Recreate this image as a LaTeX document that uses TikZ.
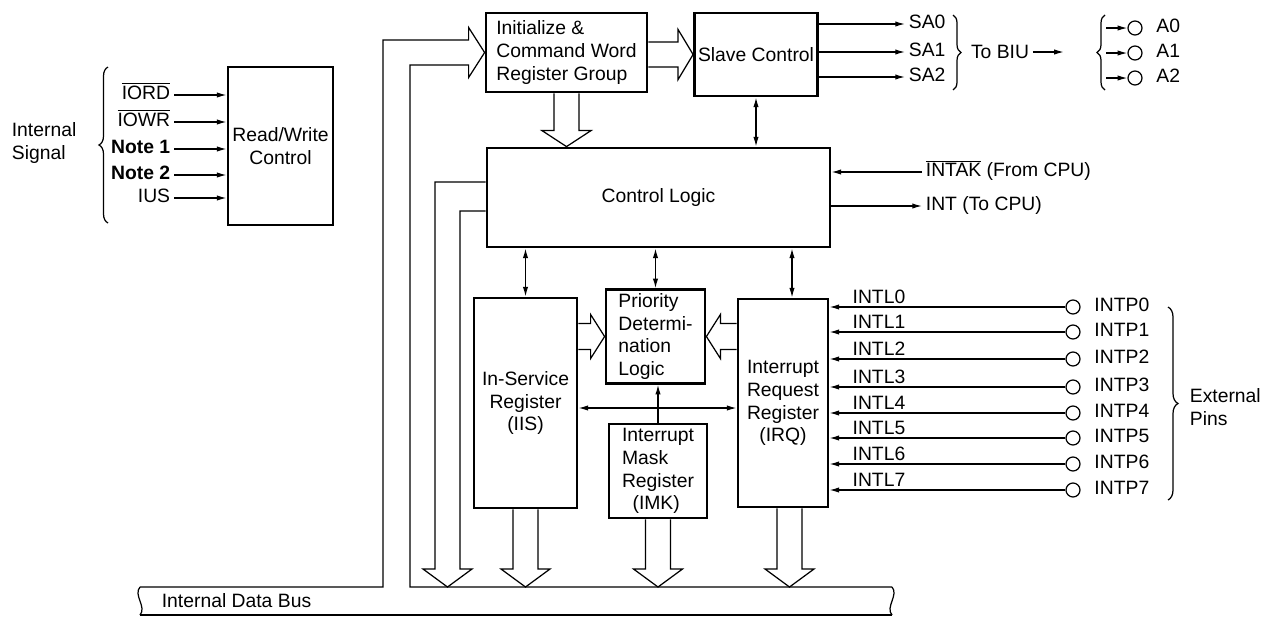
\documentclass[tikz,border=0pt]{standalone}
\usepackage{fontspec}
\setmainfont{Liberation Sans}
\usepackage{tikz}
\usetikzlibrary{arrows.meta,calc,decorations.pathreplacing}

\newcommand{\ovl}[1]{$\overline{\mbox{#1}}$}
% wide arrow from a block down to the data bus
\newcommand{\busdrop}[1]{%
  \draw[busline] ([xshift=-0.25cm]#1) -- ([xshift=-0.25cm]#1 |- hd) -- ([xshift=-0.49cm]#1 |- hd)
    -- (#1 |- busL) -- ([xshift=0.49cm]#1 |- hd) -- ([xshift=0.25cm]#1 |- hd) -- ([xshift=0.25cm]#1);}

\begin{document}
\begin{tikzpicture}[x=0.02cm, y=-0.02cm, font=\fontsize{11}{13}\selectfont,
  blk/.style={draw, line width=1.6pt, inner sep=2pt},
  lbl/.style={inner sep=2pt},
  sig/.style={line width=0.7pt, -{Latex[length=5.5pt,width=3pt]}},
  dsig/.style={line width=0.7pt, {Latex[length=5.5pt,width=3pt]}-{Latex[length=5.5pt,width=3pt]}},
  busline/.style={line width=0.7pt, line join=miter},
  pincirc/.style={draw, circle, line width=0.7pt, minimum size=0.28cm, inner sep=0pt},
  brc/.style={line width=0.7pt, decorate, decoration={brace, amplitude=#1}},
  brc/.default=0.18cm]
  \useasboundingbox (0,0) rectangle (1273,616);

  % blocks
  \node[blk, minimum width=2.1cm, minimum height=3.16cm, align=center] (rw) at (280.5,146) {Read/Write\\Control};
  \node[blk, minimum width=3.22cm, minimum height=1.58cm, align=left] (init) at (566.5,52.5) {Initialize \&\\Command Word\\Register Group};
  \node[blk, minimum width=2.44cm, minimum height=1.66cm] (slave) at (756,54.5) {Slave Control};
  \node[blk, minimum width=6.86cm, minimum height=1.98cm] (ctl) at (658.5,197.5) {Control Logic};
  \node[blk, minimum width=2.06cm, minimum height=4.2cm, align=center] (isr) at (525.5,403) {In-Service\\Register\\(IIS)};
  \node[blk, minimum width=1.98cm, minimum height=1.86cm, align=left] (pdl) at (655.5,336.5) {Priority\\Determi-\\nation\\Logic};
  \node[blk, minimum width=1.96cm, minimum height=1.88cm, align=left] (imk) at (658,471) {Interrupt\\Mask\\Register\\\hspace*{6pt}(IMK)};
  \node[blk, minimum width=1.8cm, minimum height=4.16cm, align=center] (irq) at (783,403) {Interrupt\\Request\\Register\\(IRQ)};

  % internal signals
  \node[lbl, align=left, anchor=west] (isig) at (8,143) {Internal\\Signal};
  \draw[brc] (108,223) -- (108,67);
  \node[lbl, anchor=mid east] (iord) at (174,95) {\ovl{IORD}};
  \node[lbl, anchor=mid east] (iowr) at (174,122) {\ovl{IOWR}};
  \node[lbl, anchor=mid east] (note1) at (174,149) {\textbf{Note 1}};
  \node[lbl, anchor=mid east] (note2) at (174,175) {\textbf{Note 2}};
  \node[lbl, anchor=mid east] (ius) at (174,198) {IUS};
  \draw[sig] (iord.mid east) -- (iord.mid east -| rw.west);
  \draw[sig] (iowr.mid east) -- (iowr.mid east -| rw.west);
  \draw[sig] (note1.mid east) -- (note1.mid east -| rw.west);
  \draw[sig] (note2.mid east) -- (note2.mid east -| rw.west);
  \draw[sig] (ius.mid east) -- (ius.mid east -| rw.west);

  % slave address outputs
  \node[lbl, anchor=mid west] (sa0) at (905,24) {SA0};
  \node[lbl, anchor=mid west] (sa1) at (905,52) {SA1};
  \node[lbl, anchor=mid west] (sa2) at (905,77) {SA2};
  \draw[sig] (sa0.mid west -| slave.east) -- (sa0.mid west);
  \draw[sig] (sa1.mid west -| slave.east) -- (sa1.mid west);
  \draw[sig] (sa2.mid west -| slave.east) -- (sa2.mid west);
  \draw[brc=0.16cm] (953,15) -- (953,90);
  \node[lbl] (biu) at (1000,52) {To BIU};
  \draw[sig] (biu.east) -- ++(31,0);
  \draw[brc=0.16cm] (1105,90) -- (1105,15);
  \node[pincirc] (a0) at (1135,28) {};
  \node[pincirc] (a1) at (1135,53) {};
  \node[pincirc] (a2) at (1135,78) {};
  \node[lbl, anchor=mid west] (a0l) at ([xshift=0.2cm]a0.east) {A0};
  \node[lbl, anchor=mid west] (a1l) at ([xshift=0.2cm]a1.east) {A1};
  \node[lbl, anchor=mid west] (a2l) at ([xshift=0.2cm]a2.east) {A2};
  \draw[sig] ([xshift=-0.42cm]a0.west) -- (a0.west);
  \draw[sig] ([xshift=-0.42cm]a1.west) -- (a1.west);
  \draw[sig] ([xshift=-0.42cm]a2.west) -- (a2.west);

  % CPU handshake
  \node[lbl, anchor=mid west] (intak) at (922,172) {\ovl{INTAK} (From CPU)};
  \node[lbl, anchor=mid west] (intc) at (922,206) {INT (To CPU)};
  \draw[sig] (intak.mid west) -- (intak.mid west -| ctl.east);
  \draw[sig] (intc.mid west -| ctl.east) -- (intc.mid west);

  % control links
  \draw[dsig] (slave.south) -- (slave.south |- ctl.north);
  \draw[dsig] (isr.north) -- (isr.north |- ctl.south);
  \draw[dsig] (pdl.north) -- (pdl.north |- ctl.south);
  \draw[dsig] ([xshift=0.18cm]irq.north) -- ([xshift=0.18cm]irq.north |- ctl.south);
  \draw[dsig] ([yshift=-0.1cm]isr.east) -- ([yshift=-0.1cm]isr.east -| irq.west);
  \draw[sig] (imk.north) -- (imk.north |- pdl.south);

  % interrupt pins
  \node[pincirc] (p0) at (1073,307) {};
  \node[pincirc] (p1) at (1073,332) {};
  \node[pincirc] (p2) at (1073,359) {};
  \node[pincirc] (p3) at (1073,387) {};
  \node[pincirc] (p4) at (1073,413) {};
  \node[pincirc] (p5) at (1073,438) {};
  \node[pincirc] (p6) at (1073,464) {};
  \node[pincirc] (p7) at (1073,490) {};
  \node[lbl, anchor=mid west] (p0l) at ([xshift=0.2cm]p0.east) {INTP0};
  \node[lbl, anchor=mid west] (p1l) at ([xshift=0.2cm]p1.east) {INTP1};
  \node[lbl, anchor=mid west] (p2l) at ([xshift=0.2cm]p2.east) {INTP2};
  \node[lbl, anchor=mid west] (p3l) at ([xshift=0.2cm]p3.east) {INTP3};
  \node[lbl, anchor=mid west] (p4l) at ([xshift=0.2cm]p4.east) {INTP4};
  \node[lbl, anchor=mid west] (p5l) at ([xshift=0.2cm]p5.east) {INTP5};
  \node[lbl, anchor=mid west] (p6l) at ([xshift=0.2cm]p6.east) {INTP6};
  \node[lbl, anchor=mid west] (p7l) at ([xshift=0.2cm]p7.east) {INTP7};
  \draw[sig] (p0.west) -- (p0.west -| irq.east) node[pos=0.79, above, inner sep=1.5pt] (l0) {INTL0};
  \draw[sig] (p1.west) -- (p1.west -| irq.east) node[pos=0.79, above, inner sep=1.5pt] (l1) {INTL1};
  \draw[sig] (p2.west) -- (p2.west -| irq.east) node[pos=0.79, above, inner sep=1.5pt] (l2) {INTL2};
  \draw[sig] (p3.west) -- (p3.west -| irq.east) node[pos=0.79, above, inner sep=1.5pt] (l3) {INTL3};
  \draw[sig] (p4.west) -- (p4.west -| irq.east) node[pos=0.79, above, inner sep=1.5pt] (l4) {INTL4};
  \draw[sig] (p5.west) -- (p5.west -| irq.east) node[pos=0.79, above, inner sep=1.5pt] (l5) {INTL5};
  \draw[sig] (p6.west) -- (p6.west -| irq.east) node[pos=0.79, above, inner sep=1.5pt] (l6) {INTL6};
  \draw[sig] (p7.west) -- (p7.west -| irq.east) node[pos=0.79, above, inner sep=1.5pt] (l7) {INTL7};
  \draw[brc=0.2cm] (1168,307) -- (1168,500);
  \node[lbl, align=left, anchor=west] (ext) at (1186,407) {External\\Pins};

  % internal data bus
  \coordinate (busL) at (140,587);
  \coordinate (busR) at (892,587);
  \coordinate (busLB) at (140,615);
  \coordinate (busRB) at (892,615);
  \coordinate (fa) at (383,587);
  \coordinate (fb) at (410,587);
  \coordinate (hd) at (0,569);
  \coordinate (cd) at (447.5,569);
  \draw[busline] (busLB) -- (busRB);
  \draw[busline] (busL) .. controls (133,595) and (147,607) .. (busLB);
  \draw[busline] (busR) .. controls (899,595) and (885,607) .. (busRB);
  \node[lbl, anchor=mid west] (dbus) at (158,603) {Internal Data Bus};

  % wide arrows
  \draw[busline] (busL) -- (fa) |- ([shift={(-0.32cm,0.25cm)}]init.west) -- ([shift={(-0.32cm,0.5cm)}]init.west)
    -- (init.west) -- ([shift={(-0.32cm,-0.5cm)}]init.west) -- ([shift={(-0.32cm,-0.25cm)}]init.west) -| (fb) -- (busR);
  \draw[busline] ([yshift=0.25cm]slave.west -| init.east) -- ([shift={(-0.3cm,0.25cm)}]slave.west) -- ([shift={(-0.3cm,0.5cm)}]slave.west)
    -- (slave.west) -- ([shift={(-0.3cm,-0.5cm)}]slave.west) -- ([shift={(-0.3cm,-0.25cm)}]slave.west) -- ([yshift=-0.25cm]slave.west -| init.east);
  \draw[busline] ([xshift=-0.25cm]init.south) -- ([shift={(-0.25cm,0.32cm)}]init.south |- ctl.north) -- ([shift={(-0.49cm,0.32cm)}]init.south |- ctl.north)
    -- (init.south |- ctl.north) -- ([shift={(0.49cm,0.32cm)}]init.south |- ctl.north) -- ([shift={(0.25cm,0.32cm)}]init.south |- ctl.north) -- ([xshift=0.25cm]init.south);
  \draw[busline] ([yshift=0.26cm]pdl.west -| isr.east) -- ([shift={(-0.28cm,0.26cm)}]pdl.west) -- ([shift={(-0.28cm,0.44cm)}]pdl.west)
    -- (pdl.west) -- ([shift={(-0.28cm,-0.44cm)}]pdl.west) -- ([shift={(-0.28cm,-0.26cm)}]pdl.west) -- ([yshift=-0.26cm]pdl.west -| isr.east);
  \draw[busline] ([yshift=0.26cm]pdl.east -| irq.west) -- ([shift={(0.28cm,0.26cm)}]pdl.east) -- ([shift={(0.28cm,0.44cm)}]pdl.east)
    -- (pdl.east) -- ([shift={(0.28cm,-0.44cm)}]pdl.east) -- ([shift={(0.28cm,-0.26cm)}]pdl.east) -- ([yshift=-0.26cm]pdl.east -| irq.west);
  \draw[busline] ([yshift=0.31cm]ctl.west) -| ([xshift=-0.25cm]cd) -- ([xshift=-0.49cm]cd) -- (cd |- busL)
    -- ([xshift=0.49cm]cd) -- ([xshift=0.25cm]cd) |- ([yshift=-0.27cm]ctl.west);
  \busdrop{isr.south}
  \busdrop{imk.south}
  \coordinate (irqo) at ([xshift=0.13cm]irq.south);
  \busdrop{irqo}
\end{tikzpicture}
\end{document}
